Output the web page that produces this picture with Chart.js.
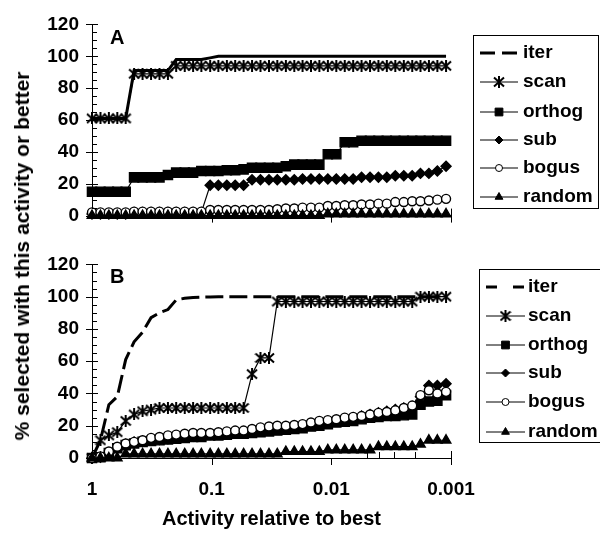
<!DOCTYPE html>
<html>
<head>
<meta charset="utf-8">
<title>Activity relative to best</title>
<script src="https://cdn.jsdelivr.net/npm/chart.js@4.4.1/dist/chart.umd.min.js"></script>
<style>
    body { margin: 0; background: #fff; }
    #wrap { position: relative; width: 600px; height: 533px; overflow: hidden; }
    #chart-a { position: absolute; left: 0; top: 0; }
    #chart-b { position: absolute; left: 0; top: 240px; }
    #y-title {
        position: absolute; left: 22px; top: 256px;
        transform: translate(-50%, -50%) rotate(-90deg);
        white-space: nowrap; line-height: 1;
        font: bold 21px "Liberation Sans", Arial, sans-serif; color: #000;
    }
</style>
</head>
<body>
<div id="wrap">
    <canvas id="chart-a" width="600" height="240"></canvas>
    <canvas id="chart-b" width="600" height="293"></canvas>
    <div id="y-title">% selected with this activity or better</div>
</div>
<script>
// Activity thresholds (fraction of the best activity), shared by every curve
const activity = [1, 0.850, 0.723, 0.615, 0.523, 0.445, 0.378, 0.321, 0.273, 0.232,
    0.198, 0.168, 0.143, 0.122, 0.103, 0.0879, 0.0747, 0.0636, 0.0541, 0.0460,
    0.0391, 0.0332, 0.0283, 0.0240, 0.0204, 0.0174, 0.0148, 0.0126, 0.0107, 0.00909,
    0.00773, 0.00657, 0.00559, 0.00475, 0.00404, 0.00344, 0.00292, 0.00248, 0.00211, 0.00180,
    0.00153, 0.00130, 0.00110];

const seriesNames = ['iter', 'scan', 'orthog', 'sub', 'bogus', 'random'];

// Axis ticks
const xTickValues = [1, 0.1, 0.01, 0.001];
const xMinorTicks = [0.005, 0.004, 0.003, 0.002];
const yMax = 120;
const yStep = 20;
const yMinorStep = 5;

// Panel A: % selected
const iterA = [61, 61, 61, 61, 61, 91, 91, 91, 91, 91, 98, 98, 98, 98, 99,
    100, 100, 100, 100, 100, 100, 100, 100, 100, 100, 100, 100, 100, 100, 100,
    100, 100, 100, 100, 100, 100, 100, 100, 100, 100, 100, 100, 100];
const scanA = [61, 61, 61, 61, 61, 89, 89, 89, 89, 89, 94, 94, 94, 94, 94,
    94, 94, 94, 94, 94, 94, 94, 94, 94, 94, 94, 94, 94, 94, 94,
    94, 94, 94, 94, 94, 94, 94, 94, 94, 94, 94, 94, 94];
const orthogA = [15, 15, 15, 15, 15, 24, 24, 24, 24, 25.5, 27, 27, 27, 28, 28,
    28, 28.5, 28.5, 29, 30, 30, 30, 30, 31, 32, 32, 32, 32, 38.5, 38.5,
    46, 46, 47, 47, 47, 47, 47, 47, 47, 47, 47, 47, 47];
const subA = [1, 1, 1, 1, 1, 2, 2, 2, 2, 2, 2, 2, 2, 2, 19,
    19, 19, 19, 19, 22.5, 22.5, 22.5, 22.5, 22.5, 22.5, 23, 23, 23, 23, 23,
    23, 23, 24, 24, 24, 24, 25, 25, 25, 26.5, 26.5, 28, 31];
const bogusA = [2, 2, 2, 2, 2, 2.5, 2.5, 2.5, 2.5, 2.5, 2.5, 2.5, 2.5, 2.5, 3.5,
    3.5, 3.5, 3.5, 3.5, 3.5, 3.5, 3.5, 4, 4.5, 4.5, 5, 5, 5, 6, 6,
    6.5, 6.5, 7, 7, 7.5, 7.5, 8.5, 8.5, 9, 9, 9.5, 10, 10.5];
const randomA = [0, 0, 0, 0, 0, 0, 0, 0, 0, 0, 0, 0, 0, 0, 0,
    0, 0, 0, 0, 0, 0, 0, 0, 0, 0, 0, 0, 0, 1, 1,
    1, 1, 1, 1, 1, 1, 1, 1, 1, 1, 1, 1, 1];

// Panel B: % selected
const iterB = [0, 11, 33, 38, 61, 72, 78, 87, 90, 92, 98, 99, 99.5, 99.7, 99.8,
    100, 100, 100, 100, 100, 100, 100, 100, 100, 100, 100, 100, 100, 100, 100,
    100, 100, 100, 100, 100, 100, 100, 100, 100, 100, 100, 100, 100];
const scanB = [0, 11, 14, 16, 23, 27, 29, 30, 31, 31, 31, 31, 31, 31, 31,
    31, 31, 31, 31, 52, 62, 62, 97, 97, 97, 97, 97, 97, 97, 97,
    97, 97, 97, 97, 97, 97, 97, 97, 97, 100, 100, 100, 100];
const orthogB = [0, 0.5, 3, 6, 8, 9, 10, 10.5, 11, 11.5, 12, 12.5, 13, 13, 14,
    14, 14.5, 15, 15, 15.5, 16, 16.5, 17, 17.5, 18, 18.5, 19.5, 20, 21, 22,
    22.5, 23, 24, 25, 25.5, 26, 26, 26.5, 27, 33, 35, 35.5, 39];
const subB = [0, 0.5, 3, 6, 8.5, 10, 10.5, 11, 11.5, 12, 12.5, 13, 13.5, 14, 14.5,
    15, 15.5, 16, 16, 16.5, 17, 17.5, 18, 18.5, 19, 20, 20.5, 21, 22, 23,
    24, 25, 26, 27, 28, 29, 30, 31, 32, 38, 45, 45, 46];
const bogusB = [0, 1, 4, 7, 9, 10, 11, 12.5, 13, 14, 14.5, 15, 15.5, 15.5, 15.5,
    16, 16.5, 17, 17, 18, 19, 19.5, 20, 20, 20.5, 21, 22, 23, 23.5, 24,
    25, 25.5, 26, 27, 28, 28.5, 29.5, 31, 32.5, 39, 42, 40, 41];
const randomB = [0, 0, 0, 0, 2.5, 2.5, 2.5, 2.5, 2.5, 2.5, 2.5, 2.5, 2.5, 2.5, 2.5,
    2.5, 2.5, 2.5, 2.5, 2.5, 2.5, 2.5, 2.5, 4, 4, 4, 4, 4, 5, 5,
    5, 5, 5, 5, 7, 7, 7, 7, 7, 8.5, 11, 11, 11];

const FONT = '"Liberation Sans", Arial, sans-serif';
Chart.defaults.font.family = FONT;
Chart.defaults.color = '#000';

// Asterisk marker: an X with a vertical bar through it
function makeAsterisk() {
    const c = document.createElement('canvas');
    c.width = 12;
    c.height = 12;
    const g = c.getContext('2d');
    g.strokeStyle = '#000';
    g.lineWidth = 2;
    g.beginPath();
    g.moveTo(1, 1.5); g.lineTo(11, 10.5);
    g.moveTo(11, 1.5); g.lineTo(1, 10.5);
    g.moveTo(6, 0); g.lineTo(6, 12);
    g.stroke();
    return c;
}
const asterisk = makeAsterisk();

const seriesStyle = {
    iter:   { borderWidth: 3, pointRadius: 0 },
    scan:   { borderWidth: 1.2, pointStyle: asterisk, pointRadius: 6 },
    orthog: { borderWidth: 1.2, pointStyle: 'rect', pointRadius: 6.5 },
    sub:    { borderWidth: 1.2, pointStyle: 'rectRot', pointRadius: 5 },
    bogus:  { borderWidth: 1.2, pointStyle: 'circle', pointRadius: 4.5, pointBackgroundColor: '#fff' },
    random: { borderWidth: 1.2, pointStyle: 'triangle', pointRadius: 5.5 }
};

function makeDatasets(values, iterDash) {
    return seriesNames.map((name, i) => ({
        label: name,
        data: values[i].map((v, j) => ({ x: activity[j], y: v })),
        borderColor: '#000',
        pointBorderColor: '#000',
        pointBackgroundColor: '#000',
        pointBorderWidth: 1.4,
        borderDash: name === 'iter' ? iterDash : [],
        tension: 0,
        clip: false,
        order: seriesNames.length - i, // later series drawn on top
        ...seriesStyle[name]
    }));
}

// Tick marks, panel letter and boxed legend drawn on top of each panel
const panelDecor = {
    id: 'panelDecor',
    afterDraw(chart, args, opts) {
        const ctx = chart.ctx;
        const { x, y } = chart.scales;
        const area = chart.chartArea;
        ctx.save();
        ctx.strokeStyle = '#000';
        ctx.fillStyle = '#000';
        ctx.lineWidth = 1;
        ctx.setLineDash([]);

        // y ticks: long across the axis every 20, short inside every 5
        ctx.beginPath();
        for (let v = 0; v <= yMax; v += yMinorStep) {
            const py = Math.round(y.getPixelForValue(v)) + 0.5;
            if (v % yStep === 0) {
                ctx.moveTo(area.left - 6, py);
                ctx.lineTo(area.left + 6, py);
            } else {
                ctx.moveTo(area.left, py);
                ctx.lineTo(area.left + 5, py);
            }
        }
        // x ticks: decades below the axis, end tick across it
        xTickValues.slice(1).forEach((v, i, arr) => {
            const px = Math.round(x.getPixelForValue(v)) + 0.5;
            const last = i === arr.length - 1;
            ctx.moveTo(px, area.bottom + (last ? -7 : 0));
            ctx.lineTo(px, area.bottom + 7);
        });
        (opts.minorTicks || []).forEach(v => {
            const px = Math.round(x.getPixelForValue(v)) + 0.5;
            ctx.moveTo(px, area.bottom);
            ctx.lineTo(px, area.bottom - 6);
        });
        ctx.stroke();

        // panel letter
        ctx.font = 'bold 20px ' + FONT;
        ctx.textBaseline = 'middle';
        ctx.textAlign = 'left';
        ctx.fillText(opts.letter, opts.letterX, opts.letterY);

        // legend box
        const lg = opts.legend;
        ctx.strokeRect(lg.left + 0.5, lg.top + 0.5, lg.width, lg.height);
        ctx.font = 'bold 19px ' + FONT;
        seriesNames.forEach((name, i) => {
            const ds = chart.data.datasets.find(d => d.label === name);
            const ly = lg.rowY[i];
            ctx.save();
            ctx.lineWidth = name === 'iter' ? ds.borderWidth : 1;
            ctx.setLineDash(name === 'iter' ? lg.iterDash : []);
            ctx.beginPath();
            ctx.moveTo(lg.lineX0, ly);
            ctx.lineTo(lg.lineX1, ly);
            ctx.stroke();
            ctx.restore();
            if (ds.pointRadius > 0) {
                ctx.save();
                ctx.lineWidth = 1;
                ctx.fillStyle = ds.pointBackgroundColor;
                ctx.strokeStyle = '#000';
                Chart.helpers.drawPoint(ctx, {
                    pointStyle: ds.pointStyle,
                    radius: ds.pointRadius - 1,
                    rotation: 0,
                    borderWidth: 1
                }, (lg.lineX0 + lg.lineX1) / 2, ly);
                ctx.restore();
            }
            ctx.fillText(name, lg.textX, ly);
        });
        ctx.restore();
    }
};

function panelOptions(p) {
    return {
        responsive: false,
        animation: false,
        events: [],
        layout: { padding: { left: 0, right: 149, top: p.top, bottom: 0 } },
        plugins: {
            legend: { display: false },
            tooltip: { enabled: false },
            panelDecor: p.decor
        },
        scales: {
            x: {
                type: 'logarithmic',
                reverse: true,
                min: 0.001,
                max: 1,
                afterBuildTicks: axis => { axis.ticks = xTickValues.map(value => ({ value })); },
                afterFit: axis => { axis.height = p.xHeight; },
                ticks: {
                    display: p.showX,
                    autoSkip: false,
                    maxRotation: 0,
                    padding: 20,
                    font: { size: 19, weight: 'bold' },
                    callback: v => String(v)
                },
                grid: { display: false, drawTicks: false },
                border: { color: '#000', width: 1 },
                title: {
                    display: p.showX,
                    text: 'Activity relative to best',
                    font: { size: 20, weight: 'bold' },
                    padding: { top: 0, bottom: 2 }
                }
            },
            y: {
                min: 0,
                max: yMax,
                afterFit: axis => { axis.width = 92; },
                ticks: {
                    stepSize: yStep,
                    padding: 13,
                    font: { size: 19, weight: 'bold' }
                },
                grid: { display: false, drawTicks: false },
                border: { color: '#000', width: 1 }
            }
        }
    };
}

new Chart(document.getElementById('chart-a'), {
    type: 'line',
    data: { datasets: makeDatasets([iterA, scanA, orthogA, subA, bogusA, randomA], []) },
    options: panelOptions({
        top: 20,
        xHeight: 12,
        showX: false,
        decor: {
            letter: 'A', letterX: 110, letterY: 38,
            legend: {
                left: 473, top: 35, width: 125, height: 173,
                rowY: [53, 82, 112, 140, 168, 197],
                lineX0: 480, lineX1: 518, textX: 523,
                iterDash: [15, 7]
            }
        }
    }),
    plugins: [panelDecor]
});

new Chart(document.getElementById('chart-b'), {
    type: 'line',
    data: { datasets: makeDatasets([iterB, scanB, orthogB, subB, bogusB, randomB], [18, 6]) },
    options: panelOptions({
        top: 18,
        xHeight: 75,
        showX: true,
        decor: {
            letter: 'B', letterX: 110, letterY: 37, minorTicks: xMinorTicks,
            legend: {
                left: 479, top: 29, width: 135, height: 173,
                rowY: [47, 76, 105, 133, 162, 192],
                lineX0: 486, lineX1: 525, textX: 528,
                iterDash: [11, 16]
            }
        }
    }),
    plugins: [panelDecor]
});
</script>
</body>
</html>
